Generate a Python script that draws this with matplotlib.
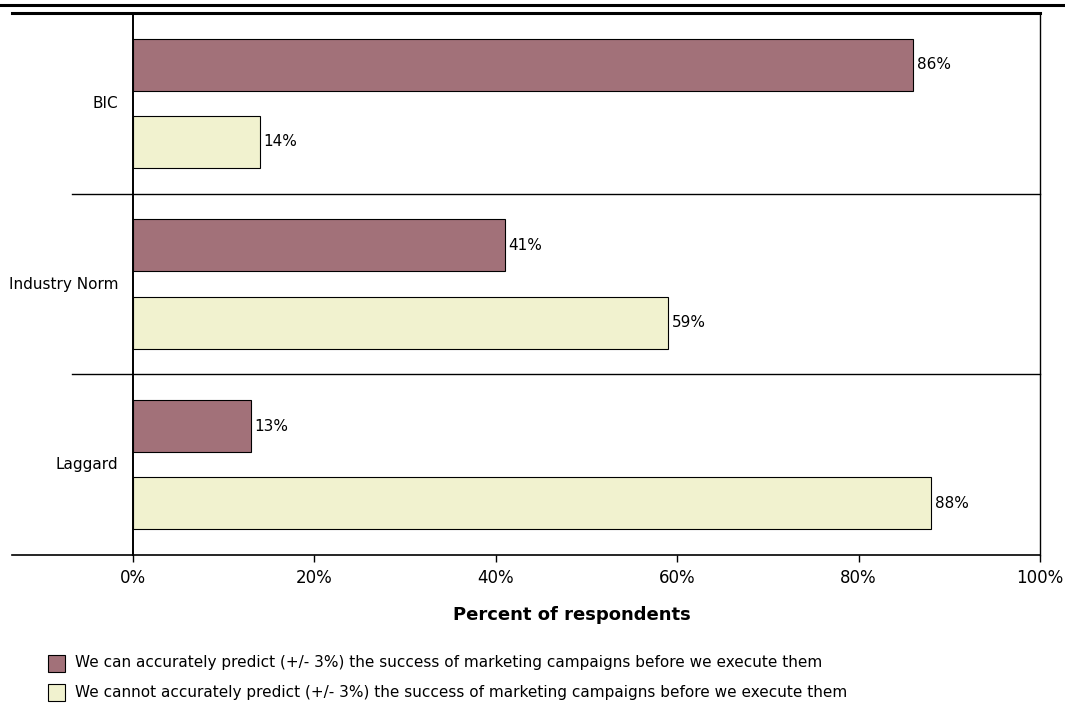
import numpy as np
import matplotlib.pyplot as plt
from matplotlib.lines import Line2D
from matplotlib.patches import Rectangle

# groups and shares of respondents (%)
groups = ["BIC", "Industry Norm", "Laggard"]
can_predict = [86, 41, 13]
cannot_predict = [14, 59, 88]
series_names = [
    "We can accurately predict (+/- 3%) the success of marketing campaigns before we execute them",
    "We cannot accurately predict (+/- 3%) the success of marketing campaigns before we execute them",
]
x_ticks = [0, 20, 40, 60, 80, 100]

maroon = "#a27179"
cream = "#f1f2cf"

plt.rcParams['font.family'] = ['DejaVu Sans']

W, H = 1065, 706
fig = plt.figure(figsize=(W / 100, H / 100), dpi=100)
ax = fig.add_axes([133 / W, 1 - 555 / H, (1040 - 133) / W, (555 - 13) / H])

y = np.arange(len(groups))
off = 0.214
bh = 0.287
ax.barh(y - off, can_predict, height=bh, color=maroon, edgecolor="black", linewidth=0.8)
ax.barh(y + off, cannot_predict, height=bh, color=cream, edgecolor="black", linewidth=0.8)

for yi, v in zip(y - off, can_predict):
    ax.text(v + 0.4, yi, f"{v}%", va="center", ha="left", fontsize=11)
for yi, v in zip(y + off, cannot_predict):
    ax.text(v + 0.4, yi, f"{v}%", va="center", ha="left", fontsize=11)

ax.set_xlim(0, 100)
ax.set_ylim(len(groups) - 0.5, -0.5)
ax.set_xticks(x_ticks)
ax.set_xticklabels([f"{t}%" for t in x_ticks], fontsize=12)
ax.tick_params(axis="x", length=5, width=1, pad=5)
ax.set_yticks([])
for i, g in enumerate(groups):
    ax.text(-0.016, i, g, transform=ax.get_yaxis_transform(), ha="right", va="center", fontsize=11)

for s in ["top", "bottom"]:
    ax.spines[s].set_visible(False)
ax.spines["left"].set_linewidth(1.4)
ax.spines["right"].set_linewidth(1.0)

# group separators and frame lines that run past the left axis
for b in np.arange(0.5, len(groups) - 0.5, 1.0):
    ax.add_line(Line2D([-0.0673, 1], [b, b], transform=ax.get_yaxis_transform(),
                       color="black", lw=1.0, clip_on=False))
ax.add_line(Line2D([-0.1334, 1], [0, 0], transform=ax.transAxes, color="black", lw=1.2, clip_on=False))
ax.add_line(Line2D([-0.1334, 1], [1, 1], transform=ax.transAxes, color="black", lw=2.2, clip_on=False))
fig.add_artist(Line2D([0, 1], [1 - 5 / H, 1 - 5 / H], transform=fig.transFigure, color="black", lw=2.2))

ax.set_xlabel("Percent of respondents", fontsize=13, fontweight="bold")
ax.xaxis.set_label_coords(0.484, -0.094)

# legend drawn by hand at the bottom left
for k, (name, col) in enumerate(zip(series_names, [maroon, cream])):
    yc = 663 + 29 * k
    fig.add_artist(Rectangle((48 / W, 1 - (yc + 8.5) / H), 17 / W, 17 / H,
                             transform=fig.transFigure, facecolor=col, edgecolor="black", lw=0.8))
    fig.text(75 / W, 1 - yc / H, name, ha="left", va="center", fontsize=11)

fig.savefig("out.png", dpi=100)
